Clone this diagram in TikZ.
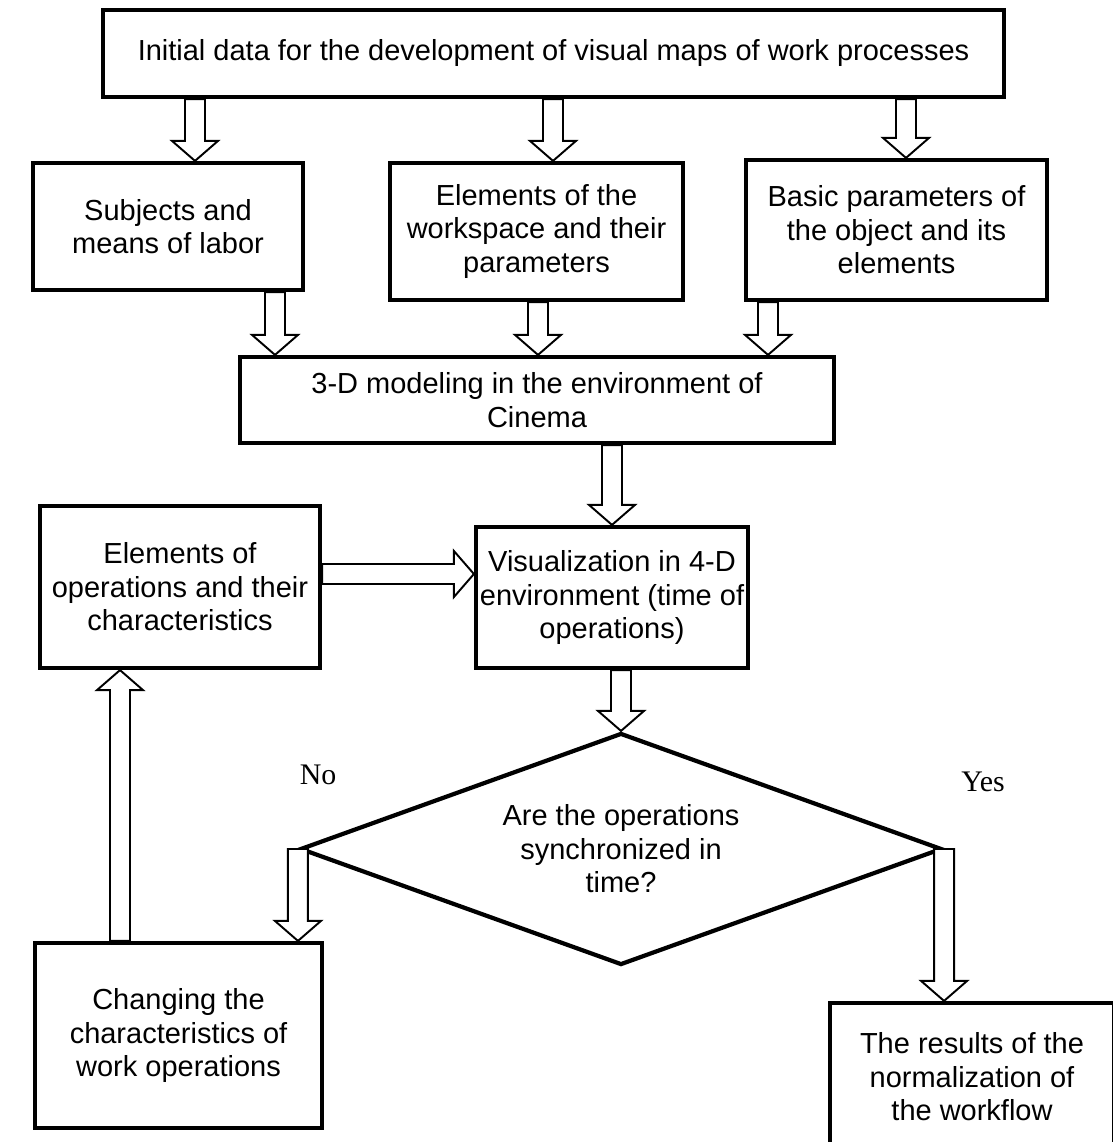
\documentclass[tikz,border=0pt]{standalone}
\usepackage{fontspec}
\setmainfont{Liberation Sans}
\newfontfamily\answerfont{Liberation Serif}
\usetikzlibrary{calc}
\usetikzlibrary{shapes.geometric}

\begin{document}
\begin{tikzpicture}[x=0.02cm,y=-0.02cm,
box/.style = {draw, line width=2.4pt, align=center, inner sep=0pt,
  font=\fontsize{16.5}{19}\selectfont},
decision/.style = {draw, shape=diamond, aspect=2.77, line width=2.4pt, align=center,
  inner sep=0pt, font=\fontsize{16.5}{19}\selectfont},
answer/.style = {font=\answerfont\fontsize{17}{19}\selectfont},
fat/.style = {draw, fill=white, line width=1.1pt, line join=miter,
  to path={let \p1=(\tikztostart), \p2=(\tikztotarget),
    \p3=($(\p2)!0.4cm!(\p1)$) in
    ($(\p1)!0.2cm!90:(\p2)$) -- ($(\p3)!0.2cm!-90:(\p1)$)
    -- ($(\p3)!0.46cm!-90:(\p1)$) -- (\p2)
    -- ($(\p3)!0.46cm!90:(\p1)$) -- ($(\p3)!0.2cm!90:(\p1)$)
    -- ($(\p1)!0.2cm!-90:(\p2)$) -- cycle}}
]
\useasboundingbox (0,0) rectangle (1112,1142);

\node[box, minimum width=18.02cm, minimum height=1.74cm] (init) at (553.5,53.5)
  {Initial data for the development of visual maps of work processes};

\node[box, minimum width=5.4cm, minimum height=2.54cm] (subj) at (168,226.5)
  {Subjects and\\ means of labor};
\node[box, minimum width=5.86cm, minimum height=2.74cm] (space) at (536.5,231.5)
  {Elements of the\\ workspace and their\\ parameters};
\node[box, minimum width=6.02cm, minimum height=2.8cm] (basic) at (896.5,230)
  {Basic parameters of\\ the object and its\\ elements};

\node[box, minimum width=11.88cm, minimum height=1.72cm] (model) at (537,400)
  {3-D modeling in the environment of\\ Cinema};

\node[box, minimum width=5.6cm, minimum height=3.24cm] (elem) at (180,587)
  {Elements of\\ operations and their\\ characteristics};
\node[box, minimum width=5.44cm, minimum height=2.82cm] (vis) at (612,597.5)
  {Visualization in 4-D\\ environment (time of\\ operations)};

\node[decision, minimum width=12.84cm, minimum height=4.64cm] (sync) at (621,849)
  {Are the operations\\ synchronized in\\ time?};

\node[box, minimum width=5.74cm, minimum height=3.7cm] (change) at (178.5,1035.5)
  {Changing the\\ characteristics of\\ work operations};
\node[box, minimum width=5.68cm, minimum height=2.96cm] (result) at (972,1077)
  {The results of the\\ normalization of\\ the workflow};

\node[answer] (no) at (318,775) {No};
\node[answer] (yes) at (983,782) {Yes};

% hollow arrows
\draw[fat] (init.south -| 195,0) to (subj.north -| 195,0);
\draw[fat] (init.south -| 553,0) to (space.north -| 553,0);
\draw[fat] (init.south -| 906,0) to (basic.north -| 906,0);
\draw[fat] (subj.south -| 275,0) to (model.north -| 275,0);
\draw[fat] (space.south -| 538,0) to (model.north -| 538,0);
\draw[fat] (basic.south -| 768,0) to (model.north -| 768,0);
\draw[fat] (model.south -| 612,0) to (vis.north -| 612,0);
\draw[fat] (elem.east |- 0,574) to (vis.west |- 0,574);
\draw[fat] (vis.south -| sync.north) to (sync.north);
\draw[fat] (sync.west) to (change.north -| sync.west);
\draw[fat] (change.north -| 120,0) to (elem.south -| 120,0);
\draw[fat] (sync.east) to (result.north -| sync.east);

\end{tikzpicture}
\end{document}
